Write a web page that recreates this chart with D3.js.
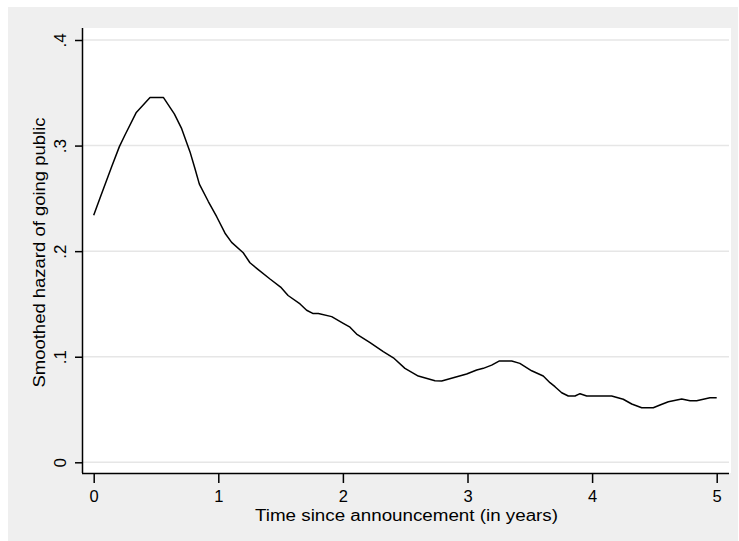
<!DOCTYPE html>
<html>
<head>
<meta charset="utf-8">
<script src="https://cdn.jsdelivr.net/npm/d3@7"></script>
<style>
  html, body { margin: 0; padding: 0; background: #ffffff; }
  svg { display: block; }
  text { font-family: "Liberation Sans", Arial, sans-serif; fill: #000; }
</style>
</head>
<body>
<svg id="chart" width="739" height="541"></svg>
<script>
// ---- Data ----
const years = [0, 0.05, 0.144, 0.206, 0.251, 0.34, 0.452, 0.559, 0.647, 0.706,
  0.773, 0.813, 0.848, 0.92, 0.987, 1.054, 1.107, 1.2, 1.254, 1.308,
  1.415, 1.5, 1.56, 1.656, 1.709, 1.758, 1.803, 1.91, 2.003, 2.057,
  2.11, 2.218, 2.324, 2.405, 2.498, 2.605, 2.739, 2.793, 2.9, 2.993,
  3.074, 3.127, 3.194, 3.253, 3.355, 3.42, 3.515, 3.608, 3.662, 3.702,
  3.756, 3.809, 3.863, 3.903, 3.957, 4.157, 4.25, 4.318, 4.398, 4.491,
  4.545, 4.612, 4.719, 4.786, 4.839, 4.946, 5.0];
const hazard = [0.234, 0.25, 0.28, 0.299, 0.31, 0.331, 0.3456, 0.3456, 0.33, 0.316,
  0.294, 0.278, 0.2635, 0.247, 0.2326, 0.217, 0.2083, 0.1985, 0.189, 0.1837,
  0.1736, 0.166, 0.158, 0.150, 0.144, 0.141, 0.141, 0.138, 0.1316, 0.128,
  0.1215, 0.1133, 0.1048, 0.099, 0.089, 0.0817, 0.0773, 0.077, 0.0805, 0.0836,
  0.0874, 0.089, 0.092, 0.0959, 0.0959, 0.0937, 0.0867, 0.0817, 0.0754, 0.0716,
  0.0659, 0.0628, 0.0628, 0.065, 0.0628, 0.0628, 0.0597, 0.0552, 0.0517, 0.0517,
  0.0543, 0.0574, 0.060, 0.0583, 0.0583, 0.0612, 0.0612];
const xTicks = [0, 1, 2, 3, 4, 5];
const xTickLabels = ["0", "1", "2", "3", "4", "5"];
const yTicks = [0, 0.1, 0.2, 0.3, 0.4];
const yTickLabels = ["0", ".1", ".2", ".3", ".4"];
const xTitle = "Time since announcement (in years)";
const yTitle = "Smoothed hazard of going public";

const points = years.map((t, i) => ({ t: t, v: hazard[i] }));

// ---- Layout ----
const svg = d3.select("#chart");
const plot = { left: 82, right: 731, top: 28, bottom: 473 };

const x = d3.scaleLinear().domain([0, 5]).range([93.7, 716.7]);
const y = d3.scaleLinear().domain([0, 0.4]).range([462.3, 40]);

// outer graph region (gray)
svg.append("rect").attr("x", 8).attr("y", 7).attr("width", 730).attr("height", 534)
  .attr("fill", "#efefef");
// plot region (white)
svg.append("rect").attr("x", plot.left).attr("y", plot.top)
  .attr("width", plot.right - plot.left).attr("height", plot.bottom - plot.top)
  .attr("fill", "#ffffff");

// gridlines
svg.append("g").selectAll("line").data(yTicks).join("line")
  .attr("x1", plot.left).attr("x2", 729)
  .attr("y1", d => y(d)).attr("y2", d => y(d))
  .attr("stroke", "#e6e6e6").attr("stroke-width", 1.5);

// curve
const line = d3.line().x(d => x(d.t)).y(d => y(d.v));
svg.append("path").datum(points)
  .attr("d", line)
  .attr("fill", "none")
  .attr("stroke", "#000")
  .attr("stroke-width", 1.5)
  .attr("stroke-linejoin", "round");

// x axis
const xAxis = d3.axisBottom(x).tickValues(xTicks)
  .tickFormat((d, i) => xTickLabels[i]).tickSize(10).tickSizeOuter(0);
const gx = svg.append("g").attr("transform", `translate(0,${plot.bottom})`).call(xAxis);
gx.select(".domain").attr("d", `M${plot.left},0.5H729`).attr("stroke", "#000").attr("stroke-width", 1.5);
gx.selectAll(".tick line").attr("stroke", "#000").attr("stroke-width", 1.5);
gx.selectAll(".tick text").attr("font-size", 16.5).attr("font-family", "Liberation Sans, Arial, sans-serif")
  .attr("fill", "#000").attr("y", 29).attr("dy", null);

// y axis
const yAxis = d3.axisLeft(y).tickValues(yTicks)
  .tickFormat((d, i) => yTickLabels[i]).tickSize(7).tickSizeOuter(0);
const gy = svg.append("g").attr("transform", `translate(${plot.left},0)`).call(yAxis);
gy.select(".domain").attr("d", `M0.5,${plot.top}V${plot.bottom}`).attr("stroke", "#000").attr("stroke-width", 1.5);
gy.selectAll(".tick line").attr("stroke", "#000").attr("stroke-width", 1.5);
gy.selectAll(".tick text")
  .attr("font-size", 17).attr("font-family", "Liberation Sans, Arial, sans-serif").attr("fill", "#000")
  .attr("x", null).attr("dy", null)
  .attr("text-anchor", "middle")
  .attr("transform", "translate(-16,0) rotate(-90)");

// axis titles
svg.append("text")
  .attr("x", (plot.left + plot.right) / 2).attr("y", 521)
  .attr("text-anchor", "middle").attr("font-size", 16)
  .attr("textLength", 303).attr("lengthAdjust", "spacingAndGlyphs")
  .text(xTitle);

svg.append("text")
  .attr("transform", `translate(45,${(plot.top + plot.bottom) / 2 + 2}) rotate(-90)`)
  .attr("text-anchor", "middle").attr("font-size", 16)
  .attr("textLength", 270).attr("lengthAdjust", "spacingAndGlyphs")
  .text(yTitle);
</script>
</body>
</html>
